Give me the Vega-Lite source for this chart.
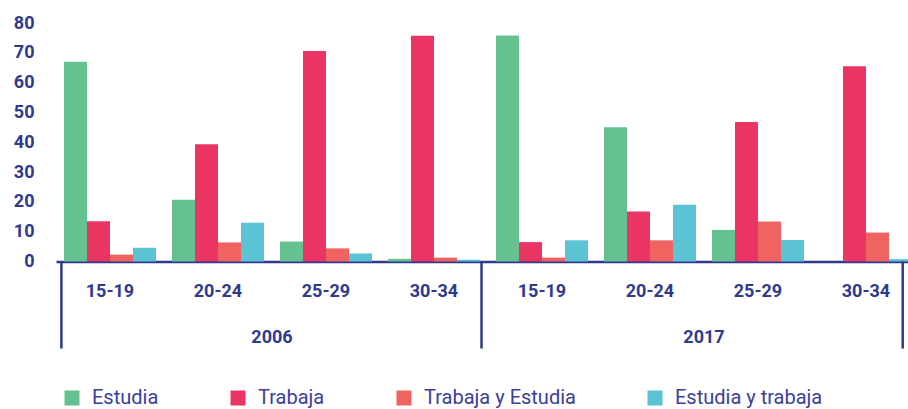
{
  "$schema": "https://vega.github.io/schema/vega-lite/v6.json",
  "autosize": "none",
  "width": 864,
  "height": 238.5,
  "padding": {"left": 56, "top": 23, "right": 0, "bottom": 147.5},
  "background": "white",
  "config": {
    "view": {"stroke": null},
    "font": "Roboto",
    "axisX": {"domainColor": "#2f3a8f", "domainWidth": 2.5, "ticks": false, "grid": false, "labelAngle": 0, "labelFont": "Roboto", "labelFontWeight": "bold", "labelFontSize": 18, "labelColor": "#2f3a8f", "labelPadding": 21},
    "axisY": {"domain": false, "ticks": false, "grid": false, "labelOverlap": false, "labelFont": "Roboto", "labelFontWeight": "bold", "labelFontSize": 18, "labelColor": "#2f3a8f", "labelPadding": 22},
    "legend": {"labelFont": "Roboto", "labelFontSize": 20, "labelColor": "#3c409a", "symbolType": "square", "symbolSize": 225, "symbolStrokeWidth": 0, "labelOffset": 10, "columnPadding": 69}
  },
  "resolve": {"axis": {"y": "independent"}},
  "layer": [
    {
      "data": {"values": [
        {"grupo": "2006 15-19", "serie": "Estudia", "valor": 67},
        {"grupo": "2006 15-19", "serie": "Trabaja", "valor": 13.5},
        {"grupo": "2006 15-19", "serie": "Trabaja y Estudia", "valor": 2.3},
        {"grupo": "2006 15-19", "serie": "Estudia y trabaja", "valor": 4.6},
        {"grupo": "2006 20-24", "serie": "Estudia", "valor": 20.7},
        {"grupo": "2006 20-24", "serie": "Trabaja", "valor": 39.3},
        {"grupo": "2006 20-24", "serie": "Trabaja y Estudia", "valor": 6.4},
        {"grupo": "2006 20-24", "serie": "Estudia y trabaja", "valor": 13},
        {"grupo": "2006 25-29", "serie": "Estudia", "valor": 6.7},
        {"grupo": "2006 25-29", "serie": "Trabaja", "valor": 70.6},
        {"grupo": "2006 25-29", "serie": "Trabaja y Estudia", "valor": 4.4},
        {"grupo": "2006 25-29", "serie": "Estudia y trabaja", "valor": 2.7},
        {"grupo": "2006 30-34", "serie": "Estudia", "valor": 0.9},
        {"grupo": "2006 30-34", "serie": "Trabaja", "valor": 75.7},
        {"grupo": "2006 30-34", "serie": "Trabaja y Estudia", "valor": 1.3},
        {"grupo": "2006 30-34", "serie": "Estudia y trabaja", "valor": 0.6},
        {"grupo": "2017 15-19", "serie": "Estudia", "valor": 75.8},
        {"grupo": "2017 15-19", "serie": "Trabaja", "valor": 6.5},
        {"grupo": "2017 15-19", "serie": "Trabaja y Estudia", "valor": 1.3},
        {"grupo": "2017 15-19", "serie": "Estudia y trabaja", "valor": 7.1},
        {"grupo": "2017 20-24", "serie": "Estudia", "valor": 45},
        {"grupo": "2017 20-24", "serie": "Trabaja", "valor": 16.8},
        {"grupo": "2017 20-24", "serie": "Trabaja y Estudia", "valor": 7.1},
        {"grupo": "2017 20-24", "serie": "Estudia y trabaja", "valor": 19},
        {"grupo": "2017 25-29", "serie": "Estudia", "valor": 10.6},
        {"grupo": "2017 25-29", "serie": "Trabaja", "valor": 46.8},
        {"grupo": "2017 25-29", "serie": "Trabaja y Estudia", "valor": 13.4},
        {"grupo": "2017 25-29", "serie": "Estudia y trabaja", "valor": 7.2},
        {"grupo": "2017 30-34", "serie": "Estudia", "valor": 0},
        {"grupo": "2017 30-34", "serie": "Trabaja", "valor": 65.5},
        {"grupo": "2017 30-34", "serie": "Trabaja y Estudia", "valor": 9.7},
        {"grupo": "2017 30-34", "serie": "Estudia y trabaja", "valor": 0.8}
      ]},
      "mark": {"type": "bar"},
      "encoding": {
        "x": {"field": "grupo", "type": "nominal",
              "scale": {"domain": ["2006 15-19","2006 20-24","2006 25-29","2006 30-34","2017 15-19","2017 20-24","2017 25-29","2017 30-34"], "paddingInner": 0, "paddingOuter": 0},
              "axis": {"title": null, "labelExpr": "split(datum.label, ' ')[1]"}},
        "xOffset": {"field": "serie", "type": "nominal",
              "scale": {"domain": ["Estudia","Trabaja","Trabaja y Estudia","Estudia y trabaja"], "paddingInner": 0, "paddingOuter": 0.348}},
        "y": {"field": "valor", "type": "quantitative",
              "scale": {"domain": [0, 80], "nice": false},
              "axis": {"title": null, "values": [0,10,20,30,40,50,60,70,80], "labelOverlap": false}},
        "color": {"field": "serie", "type": "nominal",
              "scale": {"domain": ["Estudia","Trabaja","Trabaja y Estudia","Estudia y trabaja"], "range": ["#66c191","#ea3462","#ef6461","#5bc3d3"]},
              "legend": {"title": null, "orient": "none", "direction": "horizontal", "legendX": 6, "legendY": 365}}
      }
    },
    {
      "data": {"values": [{"grupo": "2006 15-19"}]},
      "mark": {"type": "rule", "color": "#2f3a8f", "strokeWidth": 2.5},
      "encoding": {
        "x": {"field": "grupo", "type": "nominal", "bandPosition": 0.05, "axis": {"title": null}},
        "y": {"datum": 0, "type": "quantitative", "axis": null},
        "y2": {"datum": -29.2}
      }
    },
    {
      "data": {"values": [{"grupo": "2006 30-34"}]},
      "mark": {"type": "rule", "color": "#2f3a8f", "strokeWidth": 2.5},
      "encoding": {
        "x": {"field": "grupo", "type": "nominal", "bandPosition": 0.94, "axis": {"title": null}},
        "y": {"datum": 0, "type": "quantitative", "axis": null},
        "y2": {"datum": -29.2}
      }
    },
    {
      "data": {"values": [{"grupo": "2017 30-34"}]},
      "mark": {"type": "rule", "color": "#2f3a8f", "strokeWidth": 2.5},
      "encoding": {
        "x": {"field": "grupo", "type": "nominal", "bandPosition": 0.84, "axis": {"title": null}},
        "y": {"datum": 0, "type": "quantitative", "axis": null},
        "y2": {"datum": -29.2}
      }
    },
    {
      "data": {"values": [{"grupo": "2006 20-24", "anio": "2006"}, {"grupo": "2017 20-24", "anio": "2017"}]},
      "mark": {"type": "text", "font": "Roboto", "fontWeight": "bold", "fontSize": 18, "color": "#2f3a8f", "baseline": "middle", "align": "center"},
      "encoding": {
        "x": {"field": "grupo", "type": "nominal", "bandPosition": 1, "axis": {"title": null}},
        "y": {"datum": -25.5, "type": "quantitative", "axis": null},
        "text": {"field": "anio"}
      }
    }
  ]
}
